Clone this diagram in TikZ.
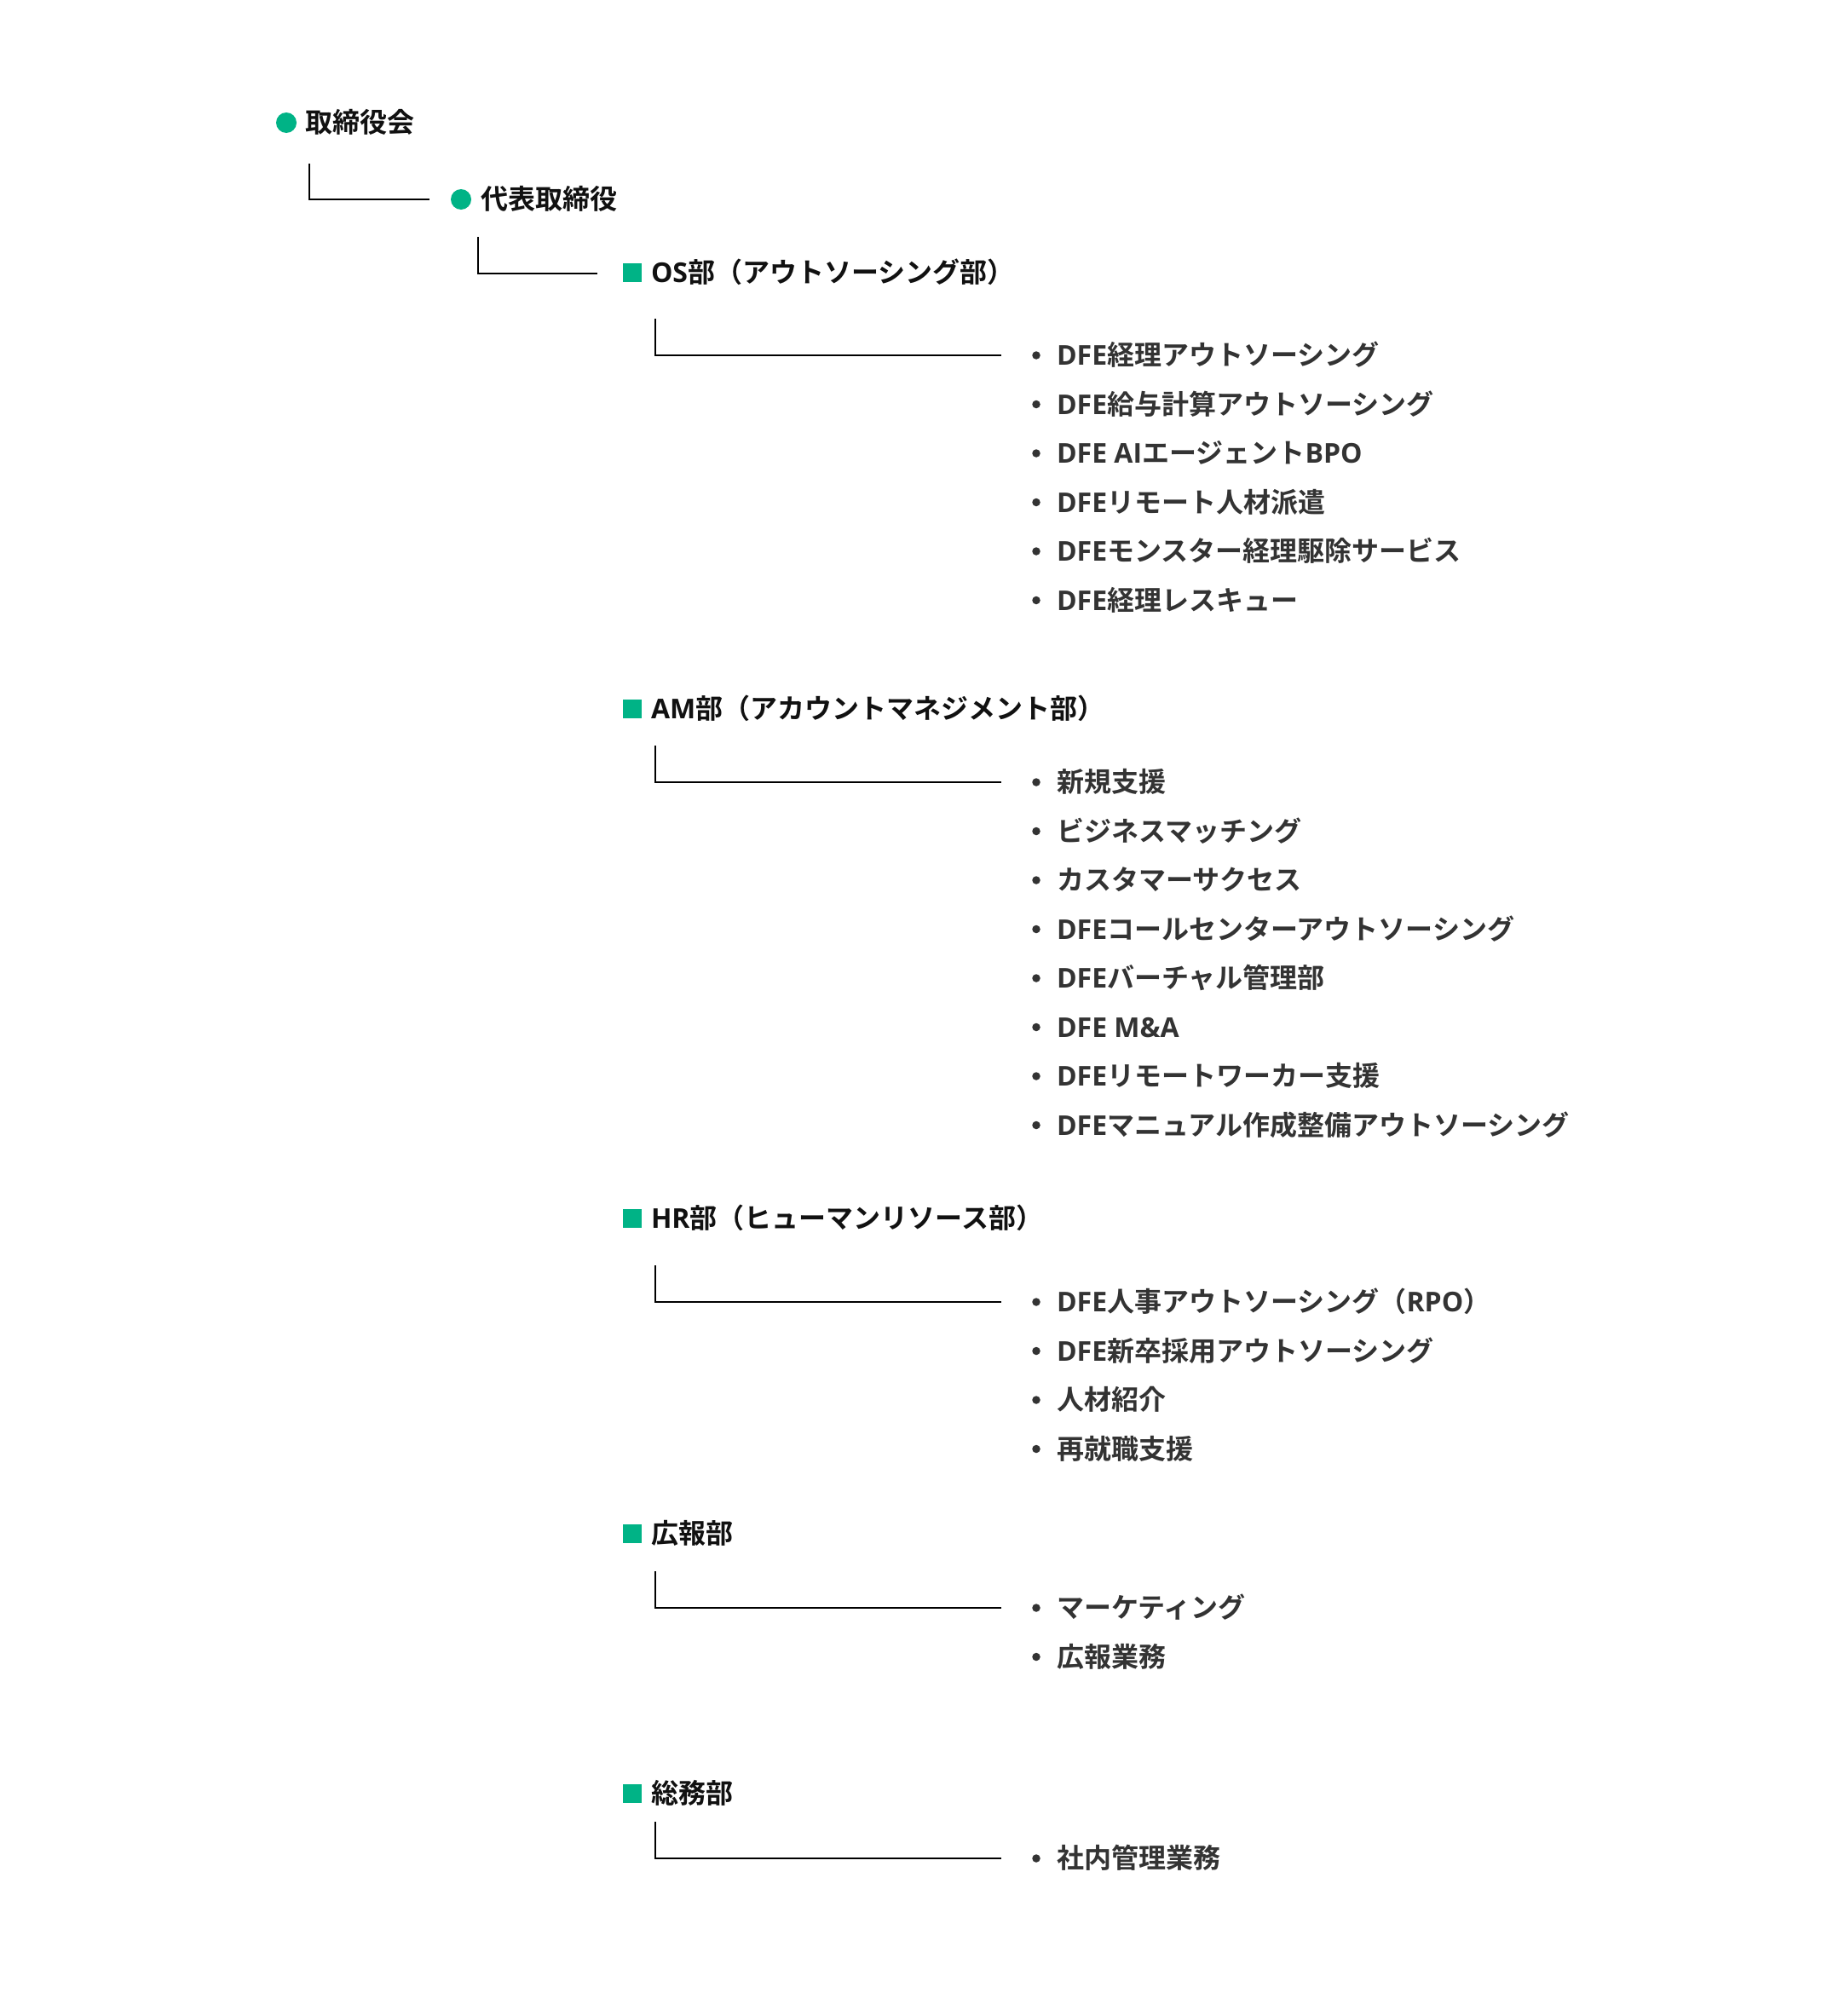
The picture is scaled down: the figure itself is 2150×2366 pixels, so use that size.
\documentclass[tikz,border=0pt]{standalone}
\usepackage{fontspec}
\newfontfamily\jpf{Noto Sans CJK JP Bold}
\IfFontExistsTF{Open Sans Bold}{\newfontfamily\laf{Open Sans Bold}}{%
  \IfFontExistsTF{OpenSans-Bold}{\newfontfamily\laf{OpenSans-Bold}}{%
    \IfFontExistsTF{NotoSans-Bold}{\newfontfamily\laf{NotoSans-Bold}}{%
      \newfontfamily\laf{Noto Sans CJK JP Bold}}}}
\newcommand\lt[1]{{\laf #1}}
\definecolor{brand}{HTML}{00B386}
\definecolor{headc}{HTML}{111111}
\definecolor{itemc}{HTML}{333333}
\tikzset{
  basetxt/.style={anchor=west, inner sep=0pt, outer sep=0pt,
    font=\jpf\fontsize{32}{38}\selectfont, text height=25.6pt, text depth=2.6pt},
  headtxt/.style={basetxt, text=headc},
  itemtxt/.style={basetxt, text=itemc},
  dotmark/.style={circle, fill=brand, minimum size=24pt, inner sep=0pt},
  sqmark/.style={rectangle, fill=brand, minimum size=22pt, inner sep=0pt},
  bul/.style={circle, fill=itemc, minimum size=9.5pt, inner sep=0pt},
  conn/.style={draw=black, line width=2pt}
}
\newcommand\dept[5]{%
  \node[sqmark] (#1sq) at (742,#2) {};
  \node[headtxt] (#1h) at (764,#2) {#4};
  \coordinate (#1ca) at (769,{#3-43});
  \coordinate (#1cb) at (1175,#3);
  \draw[conn] (#1ca) |- (#1cb);
  \foreach \t [count=\i] in {#5} {
    \node[bul] (#1b\i) at (1216,{#3+57.5*(\i-1)}) {};
    \node[itemtxt] (#1i\i) at (1240,{#3+57.5*(\i-1)}) {\t};
  }
}
\begin{document}
\begin{tikzpicture}[x=1pt,y=-1pt]
\fill[white] (0,0) rectangle (2150,2366);
\useasboundingbox (0,0) rectangle (2150,2366);
% top levels
\node[dotmark] (d1) at (336,144) {};
\node[headtxt] (t1) at (358,144) {取締役会};
\node[dotmark] (d2) at (541,234) {};
\node[headtxt] (t2) at (564,234) {代表取締役};
\coordinate (c1a) at (363,192);
\coordinate (c1b) at (504,234);
\draw[conn] (c1a) |- (c1b);
\coordinate (c2a) at (561,278);
\coordinate (c2b) at (701,321);
\draw[conn] (c2a) |- (c2b);
% departments
\dept{os}{320}{417}{\lt{OS}部（アウトソーシング部）}{%
  \lt{DFE}経理アウトソーシング,
  \lt{DFE}給与計算アウトソーシング,
  \lt{DFE AI}エージェント\lt{BPO},
  \lt{DFE}リモート人材派遣,
  \lt{DFE}モンスター経理駆除サービス,
  \lt{DFE}経理レスキュー}
\dept{am}{832}{918}{\lt{AM}部（アカウントマネジメント部）}{%
  新規支援,
  ビジネスマッチング,
  カスタマーサクセス,
  \lt{DFE}コールセンターアウトソーシング,
  \lt{DFE}バーチャル管理部,
  \lt{DFE M\&A},
  \lt{DFE}リモートワーカー支援,
  \lt{DFE}マニュアル作成整備アウトソーシング}
\dept{hr}{1430}{1528}{\lt{HR}部（ヒューマンリソース部）}{%
  \lt{DFE}人事アウトソーシング（\lt{RPO}）,
  \lt{DFE}新卒採用アウトソーシング,
  人材紹介,
  再就職支援}
\dept{pr}{1800}{1887}{広報部}{%
  マーケティング,
  広報業務}
\dept{ga}{2105}{2181}{総務部}{%
  社内管理業務}
\end{tikzpicture}
\end{document}
